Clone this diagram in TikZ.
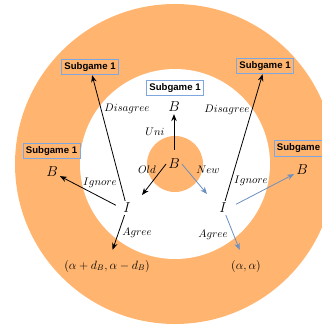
\documentclass[tikz,border=0pt]{standalone}
\usepackage{fontspec}
\setsansfont{Liberation Sans}
\usetikzlibrary{arrows.meta}

\definecolor{ringorange}{HTML}{FFB570}
\definecolor{edgeblue}{HTML}{6C8EBF}
\definecolor{boxblue}{HTML}{7EA6E0}

\begin{document}
\begin{tikzpicture}[x=1pt, y=-1pt, >={Stealth[length=7pt,width=5.5pt]},
  subbox/.style={draw=boxblue, line width=0.9pt, minimum width=57pt, minimum height=15.5pt,
    inner sep=0pt, font=\fontsize{9.6}{11}\sffamily\bfseries},
  player/.style={font=\fontsize{14.4}{16}\selectfont, inner sep=2pt},
  lbl/.style={font=\fontsize{10.5}{12}\selectfont, inner sep=0pt},
  payoff/.style={font=\fontsize{12}{14}\selectfont},
  arr/.style={->, line width=0.8pt},
  barr/.style={->, line width=0.8pt, draw=edgeblue}]

  \useasboundingbox (0,0) rectangle (322,325);
  \clip (0,0) rectangle (322,325);

  % rings
  \fill[ringorange] (175,164) circle (160pt);
  \fill[white] (175,164) circle (95pt);
  \fill[ringorange] (175,164) circle (28pt);

  % players
  \node[player] (Bc) at (174,164) {$B$};
  \node[player] (Bt) at (174,107) {$B$};
  \node[player] (Il) at (127,208) {$I$};
  \node[player] (Ir) at (223,208) {$I$};
  \node[player] (Bl) at (52,172) {$B$};
  \node[player] (Br) at (302,170) {$B$};

  % subgames
  \node[subbox] (St) at (175,88) {Subgame 1};
  \node[subbox] (Sl) at (90,67) {Subgame 1};
  \node[subbox] (Sr) at (265,66) {Subgame 1};
  \node[subbox] (Sll) at (51.5,151) {Subgame 1};
  \node[subbox] (Srr) at (302.5,148.5) {Subgame 1};

  % payoffs
  \node[payoff] (Pl) at (107,266) {$(\alpha+d_B,\alpha-d_B)$};
  \node[payoff] (Pr) at (246,266) {$(\alpha,\alpha)$};

  \coordinate (oldEnd) at (142,195);
  \coordinate (newEnd) at (207,194);

  % moves of B
  \draw[arr, shorten <=7pt] (Bc.north) -- (Bt);
  \draw[arr] (Bc.west) -- (oldEnd);
  \draw[barr] (Bc.east) -- (newEnd);

  % moves of I (old)
  \draw[arr] (Il) -- (Sl);
  \draw[arr, shorten <=6pt] (Il.west) -- (Bl);
  \draw[arr, shorten >=7pt] (Il) -- (Pl);

  % moves of I (new)
  \draw[arr] (Ir) -- (Sr);
  \draw[barr, shorten <=8pt] (Ir.east) -- (Br);
  \draw[barr, shorten >=7pt] (Ir) -- (Pr);

  % labels
  \node[lbl] (uni) at (155,132) {$Uni$};
  \node[lbl] (old) at (147,170) {$Old$};
  \node[lbl] (new) at (208,170) {$New$};
  \node[lbl] (disl) at (127,109) {$Disagree$};
  \node[lbl] (disr) at (227,110) {$Disagree$};
  \node[lbl] (ignl) at (100,183) {$Ignore$};
  \node[lbl] (ignr) at (251,181) {$Ignore$};
  \node[lbl] (agrl) at (137,233) {$Agree$};
  \node[lbl] (agrr) at (213,235) {$Agree$};
\end{tikzpicture}
\end{document}
